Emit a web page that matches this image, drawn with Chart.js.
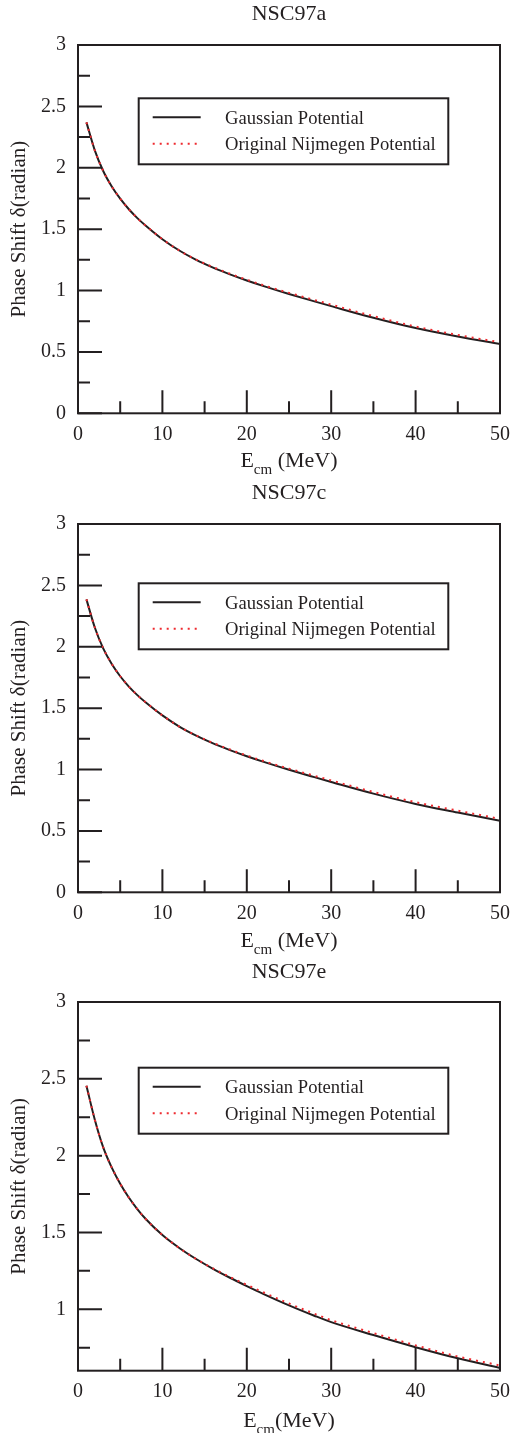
<!DOCTYPE html>
<html>
<head>
<meta charset="utf-8">
<title>Phase shift NSC97</title>
<script src="https://cdn.jsdelivr.net/npm/chart.js@4.4.1/dist/chart.umd.min.js"></script>
<style>
  body { margin: 0; background: #fff; }
  #wrap { position: relative; width: 522px; height: 1433px; }
  canvas { position: absolute; left: 0; }
</style>
</head>
<body>
<div id="wrap">
  <canvas id="cA" width="522" height="480" style="top:0"></canvas>
  <canvas id="cC" width="522" height="480" style="top:480px"></canvas>
  <canvas id="cE" width="522" height="473" style="top:960px"></canvas>
</div>
<script>
// energia E_cm (MeV)
const energy = [1, 2, 3, 4, 5, 6, 7, 8, 10, 12, 14, 16, 18, 20, 22, 25, 28, 30, 35, 40, 45, 50];

// NSC97a
const gaussA = [2.37, 2.14, 1.972, 1.848, 1.748, 1.664, 1.592, 1.53, 1.418, 1.326, 1.25, 1.187, 1.132, 1.082, 1.036, 0.972, 0.912, 0.873, 0.778, 0.694, 0.625, 0.564];
const nijmA  = [2.37, 2.14, 1.972, 1.848, 1.748, 1.664, 1.592, 1.53, 1.418, 1.326, 1.252, 1.191, 1.137, 1.088, 1.043, 0.981, 0.923, 0.885, 0.791, 0.707, 0.638, 0.578];

// NSC97c
const gaussC = [2.386, 2.155, 1.985, 1.86, 1.76, 1.678, 1.608, 1.548, 1.441, 1.35, 1.276, 1.213, 1.158, 1.108, 1.062, 0.998, 0.938, 0.899, 0.804, 0.72, 0.65, 0.582];
const nijmC  = [2.386, 2.155, 1.985, 1.86, 1.76, 1.678, 1.608, 1.548, 1.441, 1.35, 1.278, 1.217, 1.163, 1.114, 1.069, 1.007, 0.949, 0.911, 0.817, 0.734, 0.665, 0.598];

// NSC97e
const gaussE = [2.455, 2.232, 2.052, 1.922, 1.817, 1.729, 1.654, 1.589, 1.483, 1.399, 1.327, 1.263, 1.205, 1.151, 1.099, 1.0255, 0.958, 0.916, 0.832, 0.753, 0.6805, 0.618];
const nijmE  = [2.455, 2.232, 2.052, 1.922, 1.817, 1.729, 1.654, 1.589, 1.483, 1.399, 1.327, 1.266, 1.21, 1.159, 1.109, 1.0375, 0.971, 0.929, 0.845, 0.765, 0.6925, 0.634];

// ticks
const xMajor = [0, 10, 20, 30, 40, 50];
const xMinor = [5, 15, 25, 35, 45];
const yMajor = [0, 0.5, 1, 1.5, 2, 2.5, 3];
const yMinor = [0.25, 0.75, 1.25, 1.75, 2.25, 2.75];

const INK = "#231f20";
const RED = "#ee2a2f";
const SERIF = '"Liberation Serif", "Times New Roman", serif';

function pts(ys) {
    return energy.map((e, i) => ({ x: e, y: ys[i] }));
}

function setTicks(major, minor) {
    return (scale) => {
        const all = major.concat(minor)
            .filter((v) => v >= scale.min - 1e-9 && v <= scale.max + 1e-9)
            .sort((a, b) => a - b);
        scale.ticks = all.map((v) => ({ value: v }));
    };
}

// marco, ticks hacia adentro, titulo, leyenda
const framePlugin = {
    id: "frame",
    afterDraw(chart, args, opts) {
        const { ctx, chartArea: a, scales } = chart;
        ctx.save();
        ctx.strokeStyle = INK;
        ctx.lineWidth = 2;
        ctx.strokeRect(a.left, a.top, a.right - a.left, a.bottom - a.top);

        ctx.beginPath();
        scales.y.ticks.forEach((t) => {
            const py = scales.y.getPixelForValue(t.value);
            const len = yMajor.includes(t.value) ? 24 : 12;
            ctx.moveTo(a.left, py);
            ctx.lineTo(a.left + len, py);
        });
        scales.x.ticks.forEach((t) => {
            const px = scales.x.getPixelForValue(t.value);
            const len = xMajor.includes(t.value) ? 23 : 12;
            ctx.moveTo(px, a.bottom);
            ctx.lineTo(px, a.bottom - len);
        });
        ctx.stroke();

        const cx = (a.left + a.right) / 2;
        ctx.fillStyle = INK;
        ctx.textBaseline = "alphabetic";

        // titulo
        ctx.font = "22px " + SERIF;
        ctx.textAlign = "center";
        ctx.fillText(opts.title, cx, opts.titleY);

        // E_cm (MeV)
        const big = "22px " + SERIF, small = "15px " + SERIF;
        ctx.font = big;
        const wE = ctx.measureText("E").width;
        const wM = ctx.measureText(opts.unit).width;
        ctx.font = small;
        const wS = ctx.measureText("cm").width;
        let x0 = cx - (wE + wS + wM) / 2;
        ctx.textAlign = "left";
        ctx.font = big;
        ctx.fillText("E", x0, opts.xTitleY);
        ctx.font = small;
        ctx.fillText("cm", x0 + wE, opts.xTitleY + 7);
        ctx.font = big;
        ctx.fillText(opts.unit, x0 + wE + wS, opts.xTitleY);

        // leyenda
        const bx = 138.7, bw = 309.6, bh = 66;
        const by = a.top + opts.legendTop;
        ctx.fillStyle = "#fff";
        ctx.fillRect(bx, by, bw, bh);
        ctx.strokeStyle = INK;
        ctx.lineWidth = 2;
        ctx.strokeRect(bx, by, bw, bh);
        ctx.font = "18.6px " + SERIF;
        chart.data.datasets.forEach((ds, i) => {
            const ly = by + 19 + i * 26.5;
            ctx.beginPath();
            ctx.strokeStyle = ds.borderColor;
            ctx.lineWidth = ds.borderWidth;
            ctx.setLineDash(ds.borderDash || []);
            ctx.moveTo(152.7, ly);
            ctx.lineTo(200.7, ly);
            ctx.stroke();
            ctx.setLineDash([]);
            ctx.fillStyle = INK;
            ctx.fillText(ds.label, 225, ly + 6.5);
        });
        ctx.restore();
    },
};

function makeChart(id, gauss, nijm, cfg) {
    const ctx = document.getElementById(id).getContext("2d");
    return new Chart(ctx, {
        type: "line",
        data: {
            datasets: [
                {
                    label: "Gaussian Potential",
                    data: pts(gauss),
                    borderColor: INK,
                    borderWidth: 2,
                    pointRadius: 0,
                    cubicInterpolationMode: "monotone",
                    order: 2,
                },
                {
                    label: "Original Nijmegen Potential",
                    data: pts(nijm),
                    borderColor: RED,
                    borderWidth: 2,
                    borderDash: [2, 5],
                    pointRadius: 0,
                    cubicInterpolationMode: "monotone",
                    order: 1,
                },
            ],
        },
        options: {
            responsive: false,
            animation: false,
            layout: { padding: { top: cfg.top, right: 22, left: 0, bottom: 0 } },
            plugins: {
                legend: { display: false },
                tooltip: { enabled: false },
                frame: {
                    title: cfg.title,
                    titleY: cfg.titleY,
                    xTitleY: 466.7,
                    unit: cfg.unit,
                    legendTop: cfg.legendTop,
                },
            },
            scales: {
                x: {
                    type: "linear",
                    min: 0,
                    max: 50,
                    afterBuildTicks: setTicks(xMajor, xMinor),
                    afterFit: (s) => { s.height = cfg.xH; },
                    grid: { display: false, drawTicks: false },
                    border: { display: false },
                    ticks: {
                        autoSkip: false,
                        maxRotation: 0,
                        padding: 9,
                        color: INK,
                        font: { family: SERIF, size: 20 },
                        callback: (v) => (xMajor.includes(v) ? String(v) : ""),
                    },
                },
                y: {
                    min: cfg.yMin,
                    max: 3,
                    afterBuildTicks: setTicks(yMajor, yMinor),
                    afterFit: (s) => { s.width = 78; },
                    grid: { display: false, drawTicks: false },
                    border: { display: false },
                    title: {
                        display: true,
                        text: "Phase Shift δ(radian)",
                        color: INK,
                        font: { family: SERIF, size: 21 },
                        padding: { top: 7, bottom: 0 },
                    },
                    ticks: {
                        autoSkip: false,
                        padding: 12,
                        color: INK,
                        font: { family: SERIF, size: 20 },
                        callback: (v) => (yMajor.includes(v) ? String(v) : ""),
                    },
                },
            },
        },
        plugins: [framePlugin],
    });
}

makeChart("cA", gaussA, nijmA, { title: "NSC97a", titleY: 19.5, top: 45, xH: 66.7, yMin: 0, legendTop: 53.3, unit: " (MeV)" });
makeChart("cC", gaussC, nijmC, { title: "NSC97c", titleY: 19.3, top: 44, xH: 67.7, yMin: 0, legendTop: 59.3, unit: " (MeV)" });
makeChart("cE", gaussE, nijmE, { title: "NSC97e", titleY: 18.3, top: 42, xH: 62.3, yMin: 0.6, legendTop: 65.7, unit: "(MeV)" });
</script>
</body>
</html>
